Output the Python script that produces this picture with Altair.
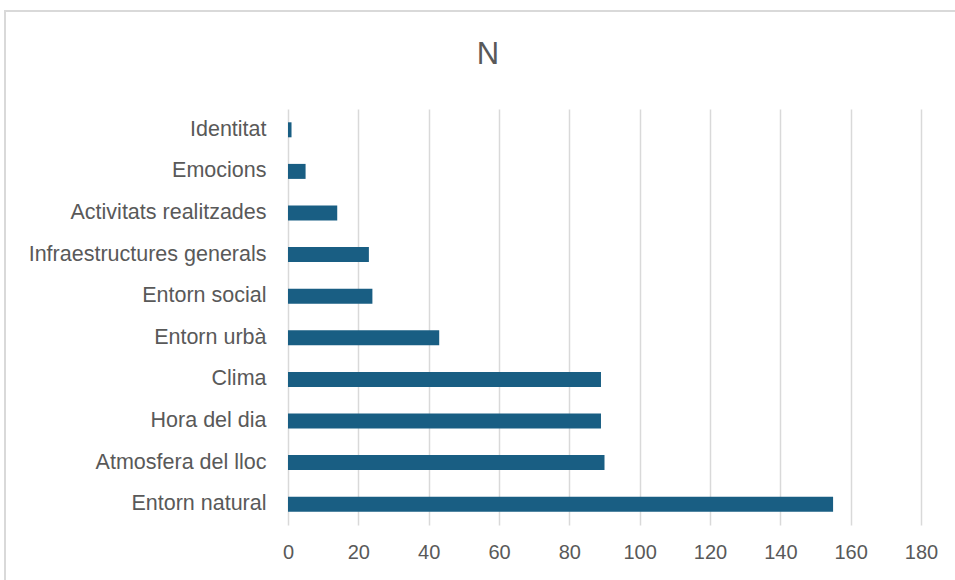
import altair as alt
import pandas as pd

categories = ["Identitat", "Emocions", "Activitats realitzades", "Infraestructures generals",
              "Entorn social", "Entorn urbà", "Clima", "Hora del dia",
              "Atmosfera del lloc", "Entorn natural"]
values = [1, 5, 14, 23, 24, 43, 89, 89, 90, 155]
x_ticks = [0, 20, 40, 60, 80, 100, 120, 140, 160, 180]
title_text = ["N"]

df = pd.DataFrame({"cat": categories, "n": values})

FONT = "Liberation Sans"
TXT = "#595959"

frame = alt.Chart(pd.DataFrame({"a": [0]})).mark_rect(
    fill=None, stroke="#d9d9d9", strokeWidth=2
).encode(
    x=alt.value(-283), x2=alt.value(672), y=alt.value(-98), y2=alt.value(480)
)

title = alt.Chart(pd.DataFrame({"t": title_text})).mark_text(
    font=FONT, fontSize=31, color=TXT, align="center", baseline="alphabetic"
).encode(
    text="t:N", x=alt.value(200), y=alt.value(-45)
)

bars = alt.Chart(df).mark_bar(color="#195e83", size=15).encode(
    x=alt.X("n:Q", scale=alt.Scale(domain=[0, 180], nice=False),
            axis=alt.Axis(values=x_ticks, title=None, grid=True, domain=False, ticks=False,
                          labelPadding=17, labelFontSize=20, labelColor=TXT, labelFont=FONT,
                          labelFlush=False,
                          gridColor="#d9d9d9", gridWidth=1.5)),
    y=alt.Y("cat:N", sort=categories,
            axis=alt.Axis(title=None, domain=False, ticks=False, labelPadding=22,
                          labelFontSize=21.5, labelColor=TXT, labelFont=FONT, grid=False,
                          labelLimit=400)),
)

chart = alt.layer(frame, bars, title).properties(
    width=633, height=416,
    autosize=alt.AutoSizeParams(type="none"),
    padding={"left": 288, "top": 109, "right": 34, "bottom": 55},
).configure_view(stroke=None)

chart.save("out.html", embed_options={"renderer": "svg", "actions": False})
